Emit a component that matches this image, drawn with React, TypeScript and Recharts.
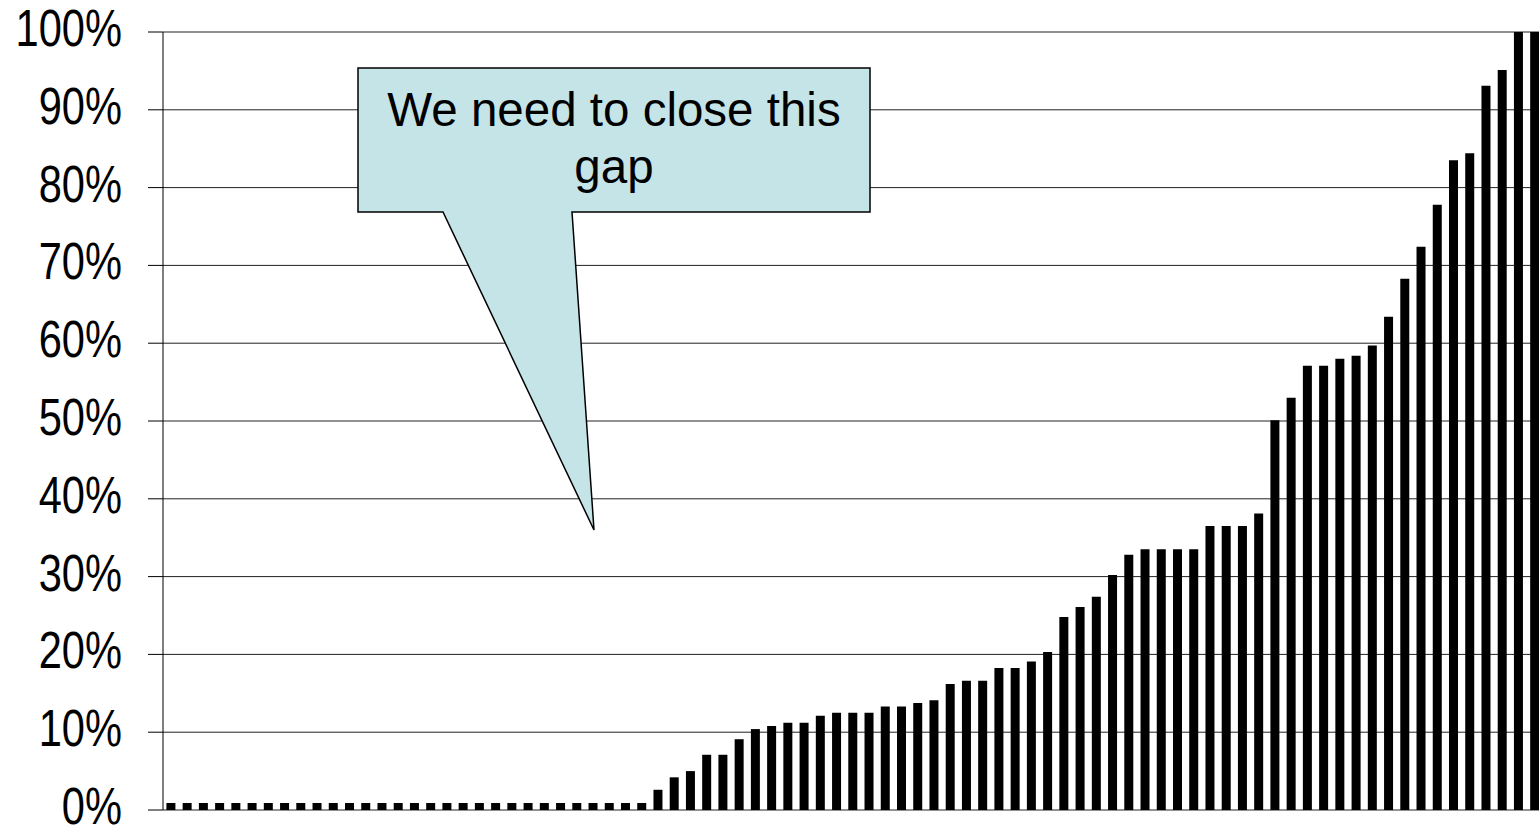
import React from 'react';
import { Bar, BarChart, CartesianGrid, XAxis, YAxis } from 'recharts';

// share per unit, sorted ascending (in %)
const lowShares = [
  0.9, 0.9, 0.9, 0.9, 0.9, 0.9, 0.9, 0.9, 0.9, 0.9,
  0.9, 0.9, 0.9, 0.9, 0.9, 0.9, 0.9, 0.9, 0.9, 0.9,
  0.9, 0.9, 0.9, 0.9, 0.9, 0.9, 0.9, 0.9, 0.9, 0.9,
];
const midShares = [
  2.6, 4.2, 5.0, 7.1, 7.1, 9.1, 10.4, 10.8, 11.2, 11.2,
  12.1, 12.5, 12.5, 12.5, 13.3, 13.3, 13.75, 14.1, 16.2, 16.6,
  16.6, 18.25, 18.25, 19.1, 20.3, 24.8, 26.1, 27.4, 30.2, 32.8,
];
const highShares = [
  33.5, 33.5, 33.5, 33.5, 36.5, 36.5, 36.5, 38.1, 50.1, 53.0,
  57.1, 57.1, 58.0, 58.4, 59.7, 63.4, 68.3, 72.4, 77.8, 83.5,
  84.4, 93.1, 95.1, 100, 100,
];
const yTicks = [0, 10, 20, 30, 40, 50, 60, 70, 80, 90, 100];
const calloutLines = ['We need to close this', 'gap'];

const shares = [...lowShares, ...midShares, ...highShares];
const data = shares.map((share, i) => ({ unit: `U${i + 1}`, share }));

const FONT = '"Liberation Sans", Arial, sans-serif';

// tick labels in the original are a narrow face, so squeeze them a bit
const PercentTick = (props: any) => {
  const { x, y, payload } = props;
  return (
    <g transform={`translate(${x},${y})`}>
      <text
        transform="scale(0.8,1)"
        textAnchor="end"
        dy="0.27em"
        fontSize={52}
        fontFamily={FONT}
        fill="#000"
      >
        {payload.value}%
      </text>
    </g>
  );
};

const Callout = () => (
  <svg
    width={1539}
    height={830}
    style={{ position: 'absolute', left: 0, top: 0, pointerEvents: 'none' }}
  >
    <path
      d="M358,68 H870 V212 H572 L594,530 L443,212 H358 Z"
      fill="#C5E4E8"
      stroke="#000"
      strokeWidth={1.5}
      strokeLinejoin="miter"
    />
    {calloutLines.map((line, i) => (
      <text
        key={line}
        x={614}
        y={126 + i * 57}
        textAnchor="middle"
        fontSize={47.5}
        fontFamily={FONT}
        fill="#000"
      >
        {line}
      </text>
    ))}
  </svg>
);

export default function App() {
  return (
    <div
      style={{
        position: 'absolute',
        left: 0,
        top: 0,
        width: 1539,
        height: 830,
        overflow: 'hidden',
        background: '#fff',
      }}
    >
      <BarChart
        width={1545}
        height={830}
        data={data}
        margin={{ top: 32, right: 2, bottom: 20, left: 0 }}
        barCategoryGap="21%"
      >
        <CartesianGrid vertical={false} stroke="#222" strokeWidth={1} />
        <XAxis
          dataKey="unit"
          height={0}
          tick={false}
          tickLine={false}
          axisLine={{ stroke: '#000', strokeWidth: 1 }}
        />
        <YAxis
          width={163}
          domain={[0, 100]}
          ticks={yTicks}
          interval={0}
          tickSize={15}
          tickMargin={26}
          tick={<PercentTick />}
          tickLine={{ stroke: '#000', strokeWidth: 1 }}
          axisLine={{ stroke: '#000', strokeWidth: 1 }}
        />
        <Bar dataKey="share" fill="#000" isAnimationActive={false} />
      </BarChart>
      <Callout />
    </div>
  );
}
